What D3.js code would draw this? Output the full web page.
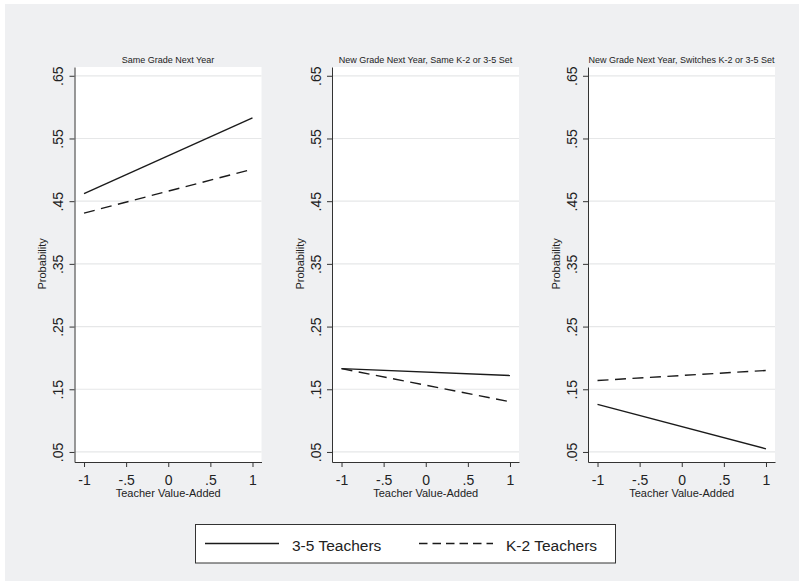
<!DOCTYPE html>
<meta charset="utf-8">
<html>
<head>
<title>Teacher value-added probabilities</title>
<script src="https://cdn.jsdelivr.net/npm/d3@7"></script>
<style>
  body { margin: 0; }
  text { font-family: "Liberation Sans", Arial, sans-serif; fill: #222; }
</style>
</head>
<body>
<div id="chart"></div>
<script>
// data
var panelTitles = ["Same Grade Next Year",
                   "New Grade Next Year, Same K-2 or 3-5 Set",
                   "New Grade Next Year, Switches K-2 or 3-5 Set"];
var xValues = [-1, 1];
var teachers35 = [[0.462, 0.583], [0.183, 0.172], [0.126, 0.055]];
var teachersK2 = [[0.431, 0.501], [0.183, 0.130], [0.164, 0.180]];
var yTicks = [0.05, 0.15, 0.25, 0.35, 0.45, 0.55, 0.65];
var xTicks = [-1, -0.5, 0, 0.5, 1];
var seriesNames = ["3-5 Teachers", "K-2 Teachers"];

var W = 799, H = 581;
var svg = d3.select("#chart").append("svg").attr("width", W).attr("height", H);

// stata-ish background
svg.append("rect").attr("width", W).attr("height", H).attr("fill", "#eff0f2");
svg.append("rect").attr("width", W).attr("height", 4).attr("fill", "#fff");
svg.append("rect").attr("width", 5).attr("height", H).attr("fill", "#fff");

function fmt(d) {
  if (d === 0) return "0";
  return String(d).replace("0.", ".");
}

var panelLeft = [74.5, 332, 588];
var plotW = 187, plotTop = 67, plotBottom = 462;

var y = d3.scaleLinear().domain([0.034, 0.664]).range([plotBottom, plotTop]);

panelTitles.forEach(function (title, p) {
  var left = panelLeft[p];
  var x = d3.scaleLinear().domain([-1.113, 1.107]).range([left, left + plotW]);
  var g = svg.append("g");

  g.append("rect").attr("x", left).attr("y", plotTop)
    .attr("width", plotW).attr("height", plotBottom - plotTop).attr("fill", "#fff");

  // grid lines
  g.selectAll(".grid").data(yTicks).enter().append("line")
    .attr("x1", left).attr("x2", left + plotW)
    .attr("y1", function (d) { return y(d); })
    .attr("y2", function (d) { return y(d); })
    .attr("stroke", "#e6e7e8").attr("stroke-width", 1.2);

  // y axis
  var ya = g.append("g").attr("transform", "translate(" + left + ",0)")
    .call(d3.axisLeft(y).tickValues(yTicks).tickFormat(fmt).tickSize(5).tickSizeOuter(0));
  ya.selectAll("text")
    .attr("x", null).attr("dy", 0)
    .attr("transform", "translate(-11.5,0) rotate(-90)")
    .attr("text-anchor", "middle")
    .style("font-size", "14px");
  ya.select(".domain").attr("stroke", "#333");
  ya.selectAll(".tick line").attr("stroke", "#333");

  // x axis
  var xa = g.append("g").attr("transform", "translate(0," + plotBottom + ")")
    .call(d3.axisBottom(x).tickValues(xTicks).tickFormat(fmt).tickSize(5).tickSizeOuter(0));
  xa.selectAll("text").attr("y", 23).attr("dy", 0).style("font-size", "14px");
  xa.select(".domain").attr("stroke", "#333");
  xa.selectAll(".tick line").attr("stroke", "#333");

  g.selectAll("text").style("font-family", "'Liberation Sans', Arial, sans-serif").attr("fill", "#222");

  // titles
  g.append("text").attr("x", left + plotW / 2).attr("y", 63)
    .attr("text-anchor", "middle").style("font-size", "9px").text(title);
  g.append("text").attr("x", x(0)).attr("y", 497)
    .attr("text-anchor", "middle").style("font-size", "11px").text("Teacher Value-Added");
  g.append("text").attr("transform", "translate(" + (left - 28.5) + "," + y(0.35) + ") rotate(-90)")
    .attr("text-anchor", "middle").style("font-size", "11px").text("Probability");

  var line = d3.line().x(function (d) { return x(d[0]); }).y(function (d) { return y(d[1]); });

  g.append("path")
    .datum(d3.zip(xValues, teachers35[p]))
    .attr("d", line).attr("fill", "none")
    .attr("stroke", "#1b1b1b").attr("stroke-width", 1.4);
  g.append("path")
    .datum(d3.zip(xValues, teachersK2[p]))
    .attr("d", line).attr("fill", "none")
    .attr("stroke", "#1b1b1b").attr("stroke-width", 1.4)
    .attr("stroke-dasharray", "11,6.5");
});

// legend
var lg = svg.append("g");
lg.append("rect").attr("x", 195.5).attr("y", 524.5).attr("width", 420).attr("height", 38.5)
  .attr("fill", "#fff").attr("stroke", "#333").attr("stroke-width", 1);
var legendX = [205, 419];
seriesNames.forEach(function (name, i) {
  lg.append("line").attr("x1", legendX[i]).attr("x2", legendX[i] + 74)
    .attr("y1", 543.5).attr("y2", 543.5)
    .attr("stroke", "#1b1b1b").attr("stroke-width", 1.4)
    .attr("stroke-dasharray", i === 1 ? "8.5,5" : null);
  lg.append("text").attr("x", legendX[i] + 87).attr("y", 550.5)
    .style("font-size", "15.5px").text(name);
});
</script>
</body>
</html>
